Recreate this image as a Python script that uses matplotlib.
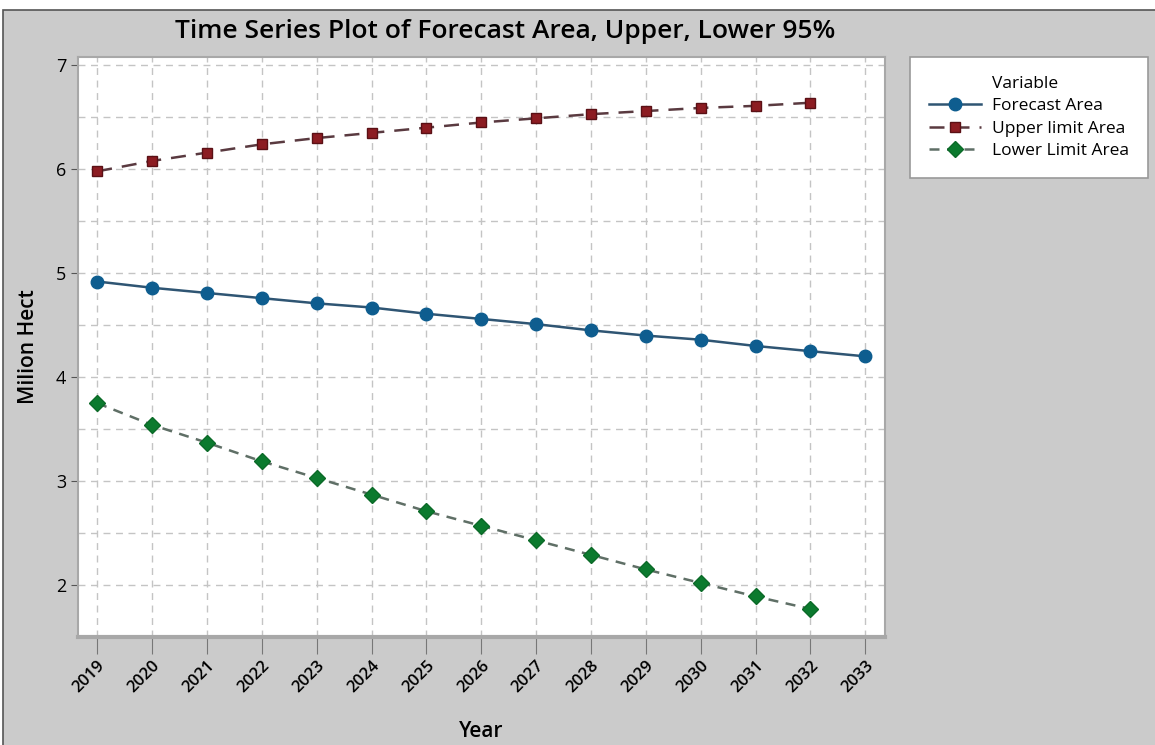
import matplotlib.pyplot as plt
from matplotlib.patches import Rectangle
from matplotlib.lines import Line2D

years = list(range(2019, 2034))
forecast = [4.92, 4.86, 4.81, 4.76, 4.71, 4.67, 4.61, 4.56, 4.51, 4.45, 4.40, 4.36, 4.30, 4.25, 4.20]
upper_years = list(range(2019, 2033))
upper = [5.98, 6.08, 6.16, 6.24, 6.30, 6.35, 6.40, 6.45, 6.49, 6.53, 6.56, 6.59, 6.61, 6.64]
lower_years = list(range(2019, 2033))
lower = [3.75, 3.54, 3.37, 3.19, 3.03, 2.87, 2.71, 2.57, 2.43, 2.29, 2.15, 2.02, 1.89, 1.77]

plt.rcParams['font.family'] = ['Open Sans', 'DejaVu Sans']

fig = plt.figure(figsize=(11.55, 7.45), dpi=100)
fig.patch.set_facecolor('white')
# grey panel with dark border like the screenshot
fig.patches.append(Rectangle((0.003, -0.01), 1.0, 1 - 10 / 745 + 0.01, transform=fig.transFigure,
                             facecolor='#cbcbcb', edgecolor='#555555', linewidth=1.2, zorder=-10))

ax = fig.add_axes([78 / 1155, 1 - 637 / 745, (885 - 78) / 1155, (637 - 57) / 745])
ax.set_facecolor('white')

ax.plot(years, forecast, color='#2f5573', linestyle='-', linewidth=1.8,
        marker='o', markersize=9, markerfacecolor='#0e5d8f', markeredgecolor='#0e5d8f',
        label='Forecast Area', zorder=3)
ax.plot(upper_years, upper, color='#5a3a40', linestyle=(0, (6, 4)), linewidth=1.8,
        marker='s', markersize=7, markerfacecolor='#8c1c22', markeredgecolor='#5a1015',
        label='Upper limit Area', zorder=3)
ax.plot(lower_years, lower, color='#5f6f66', linestyle=(0, (4, 3)), linewidth=1.8,
        marker='D', markersize=8, markerfacecolor='#0b7a2e', markeredgecolor='#0b6a28',
        label='Lower Limit Area', zorder=3)

ax.set_xlim(2018.65, 2033.36)
ax.set_ylim(1.5, 7.08)
ax.set_xticks(years)
ax.set_xticklabels([str(y) for y in years], rotation=45, ha='right', rotation_mode='anchor',
                   fontsize=12, fontweight='semibold')
ax.set_yticks([2, 3, 4, 5, 6, 7])
ax.set_yticks([1.5, 2.5, 3.5, 4.5, 5.5, 6.5], minor=True)
ax.tick_params(axis='y', labelsize=13, length=5, color='#555555')
ax.tick_params(axis='y', which='minor', length=0)
ax.tick_params(axis='x', length=12, color='#777777', pad=3)
ax.grid(True, which='both', color='#c4c4c4', linestyle=(0, (5, 4)), linewidth=1)
ax.set_axisbelow(True)
for s in ax.spines.values():
    s.set_color('#a8a8a8')
    s.set_linewidth(1.5)
ax.spines['bottom'].set_linewidth(3)

ax.set_xlabel('Year', fontsize=15, fontweight='semibold', labelpad=18)
ax.set_ylabel('Milion Hect', fontsize=15, fontweight='semibold', labelpad=12)
fig.text(505 / 1155, 1 - 32 / 745, 'Time Series Plot of Forecast Area, Upper, Lower 95%',
         ha='center', va='center', fontsize=19, fontweight='semibold')

handles, labels = ax.get_legend_handles_labels()
title_handle = Line2D([], [], color='none')
leg = fig.legend([title_handle] + handles, ['Variable'] + labels,
                 loc='upper left', bbox_to_anchor=(910 / 1155, 1 - 57 / 745), borderaxespad=0,
                 fontsize=12.5, frameon=True, fancybox=False, edgecolor='#999999',
                 facecolor='white', framealpha=1,
                 handlelength=3, borderpad=1.1, labelspacing=0.35, handletextpad=0.6)
leg.get_frame().set_linewidth(1.2)

fig.savefig('out.png', dpi=100)
